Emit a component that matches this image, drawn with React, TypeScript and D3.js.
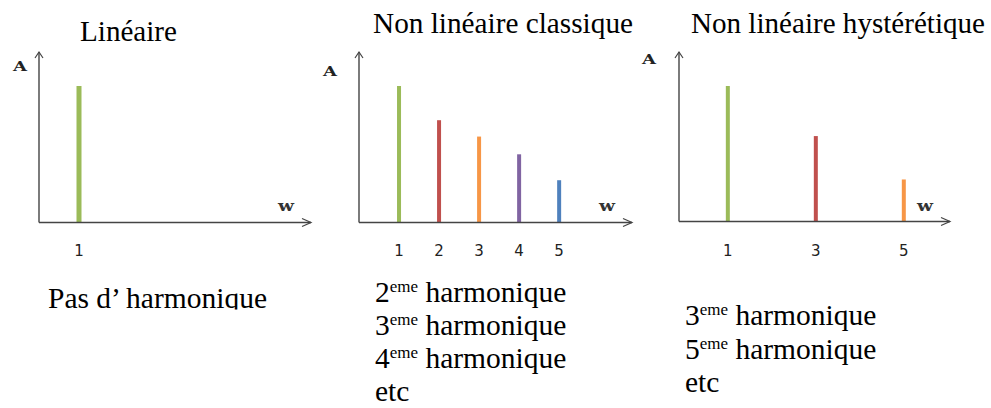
import * as d3 from 'd3'

const WIDTH = 991
const HEIGHT = 408
const SERIF = '"Liberation Serif", "Times New Roman", serif'
const SANS = '"DejaVu Sans", "Liberation Sans", sans-serif'
const LABEL_SERIF = '"DejaVu Serif", serif'

// harmonic order -> relative amplitude, per panel
const LINEAR_ORDERS = [1]
const LINEAR_AMPS = [1.0]
const CLASSIC_ORDERS = [1, 2, 3, 4, 5]
const CLASSIC_AMPS = [1.0, 0.75, 0.63, 0.5, 0.31]
const HYST_ORDERS = [1, 3, 5]
const HYST_AMPS = [1.0, 0.63, 0.31]

const CLASSIC_COLORS = ['#9bbb59', '#c0504d', '#f79646', '#8064a2', '#4f81bd']
const HYST_COLORS = ['#9bbb59', '#c0504d', '#f79646']

const TITLES = ['Linéaire', 'Non linéaire classique', 'Non linéaire hystérétique']
const NOTE_LINEAR = 'Pas d’ harmonique'
const NOTE_CLASSIC = [
  { n: '2', sup: 'eme', txt: 'harmonique' },
  { n: '3', sup: 'eme', txt: 'harmonique' },
  { n: '4', sup: 'eme', txt: 'harmonique' },
  { n: '', sup: '', txt: 'etc' },
]
const NOTE_HYST = [
  { n: '3', sup: 'eme', txt: 'harmonique' },
  { n: '5', sup: 'eme', txt: 'harmonique' },
  { n: '', sup: '', txt: 'etc' },
]

type PanelProps = {
  x0: number
  x1: number
  baseY: number
  xDomain: [number, number]
  orders: number[]
  amps: number[]
  colors: string[]
  barWidth: number
  aPos: [number, number]
}

function Panel({ x0, x1, baseY, xDomain, orders, amps, colors, barWidth, aPos }: PanelProps) {
  const x = d3.scaleLinear().domain(xDomain).range([x0, x1])
  const y = d3.scaleLinear().domain([0, 1.25]).range([baseY, 52])
  const axisColor = '#444'
  return (
    <g>
      {orders.map((k, i) => (
        <line
          key={k}
          x1={x(k)}
          x2={x(k)}
          y1={y(0)}
          y2={y(amps[i])}
          stroke={colors[i]}
          strokeWidth={barWidth}
        />
      ))}
      <line x1={x0} x2={x0} y1={baseY} y2={y(1.25)} stroke={axisColor} strokeWidth={1.4} />
      <line x1={x0} x2={x1} y1={baseY} y2={baseY} stroke={axisColor} strokeWidth={1.4} />
      <path
        d={`M${x0 - 4},${y(1.25) + 6}L${x0},${y(1.25)}L${x0 + 4},${y(1.25) + 6}`}
        fill="none"
        stroke={axisColor}
        strokeWidth={1.2}
      />
      <path
        d={`M${x1 - 9},${baseY - 4}L${x1},${baseY}L${x1 - 9},${baseY + 4}`}
        fill="none"
        stroke={axisColor}
        strokeWidth={1.2}
      />
      {orders.map((k) => (
        <text key={k} x={x(k)} y={256} textAnchor="middle" fontFamily={SANS} fontSize={15} fill="#222">
          {k}
        </text>
      ))}
      <text
        x={aPos[0]}
        y={aPos[1]}
        textAnchor="middle"
        fontFamily={LABEL_SERIF}
        fontWeight="bold"
        fontSize={12}
        fill="#222"
        textLength={14}
        lengthAdjust="spacingAndGlyphs"
      >
        A
      </text>
      <text
        x={x1 - 33}
        y={211}
        fontFamily={LABEL_SERIF}
        fontWeight="bold"
        fontSize={14}
        fill="#333"
        textLength={16}
        lengthAdjust="spacingAndGlyphs"
      >
        w
      </text>
    </g>
  )
}

function Notes({ x, y0, step, lines }: { x: number; y0: number; step: number; lines: typeof NOTE_CLASSIC }) {
  return (
    <g fill="#000">
      {lines.map((l, i) => (
        <text key={i} x={x} y={y0 + i * step} fontFamily={SERIF} fontSize={29.5}>
          {l.n}
          {l.sup && (
            <tspan fontFamily={SERIF} fontSize={17} dy={-10}>
              {l.sup}
            </tspan>
          )}
          <tspan fontFamily={SERIF} dy={l.sup ? 10 : 0}>
            {l.sup ? ' ' + l.txt : l.txt}
          </tspan>
        </text>
      ))}
    </g>
  )
}

export default function App() {
  return (
    <svg
      width={WIDTH}
      height={HEIGHT}
      style={{ position: 'absolute', left: 0, top: 0, background: '#fff' }}
    >
      <defs>
        <clipPath id="clip-note1">
          <rect x={0} y={270} width={330} height={39.5} />
        </clipPath>
      </defs>
      <text x={80} y={41} fontFamily={SERIF} fontSize={29} textLength={97} lengthAdjust="spacingAndGlyphs">
        {TITLES[0]}
      </text>
      <text x={373} y={33} fontFamily={SERIF} fontSize={29} textLength={260} lengthAdjust="spacingAndGlyphs">
        {TITLES[1]}
      </text>
      <text x={691} y={33} fontFamily={SERIF} fontSize={29} textLength={294} lengthAdjust="spacingAndGlyphs">
        {TITLES[2]}
      </text>

      <Panel
        x0={39}
        x1={311}
        baseY={222.5}
        xDomain={[0, 6.8]}
        orders={LINEAR_ORDERS}
        amps={LINEAR_AMPS}
        colors={CLASSIC_COLORS}
        barWidth={5}
        aPos={[20, 71]}
      />
      <Panel
        x0={359}
        x1={632}
        baseY={222.5}
        xDomain={[0, 6.82]}
        orders={CLASSIC_ORDERS}
        amps={CLASSIC_AMPS}
        colors={CLASSIC_COLORS}
        barWidth={4}
        aPos={[330, 76]}
      />
      <Panel
        x0={679}
        x1={950}
        baseY={221.5}
        xDomain={[-0.11, 6.05]}
        orders={HYST_ORDERS}
        amps={HYST_AMPS}
        colors={HYST_COLORS}
        barWidth={4}
        aPos={[649, 64]}
      />

      <g clipPath="url(#clip-note1)">
        <text x={48} y={307.5} fontFamily={SERIF} fontSize={29.5}>
          {NOTE_LINEAR}
        </text>
      </g>
      <Notes x={375} y0={302} step={33} lines={NOTE_CLASSIC} />
      <Notes x={685} y0={325} step={33.5} lines={NOTE_HYST} />
    </svg>
  )
}
